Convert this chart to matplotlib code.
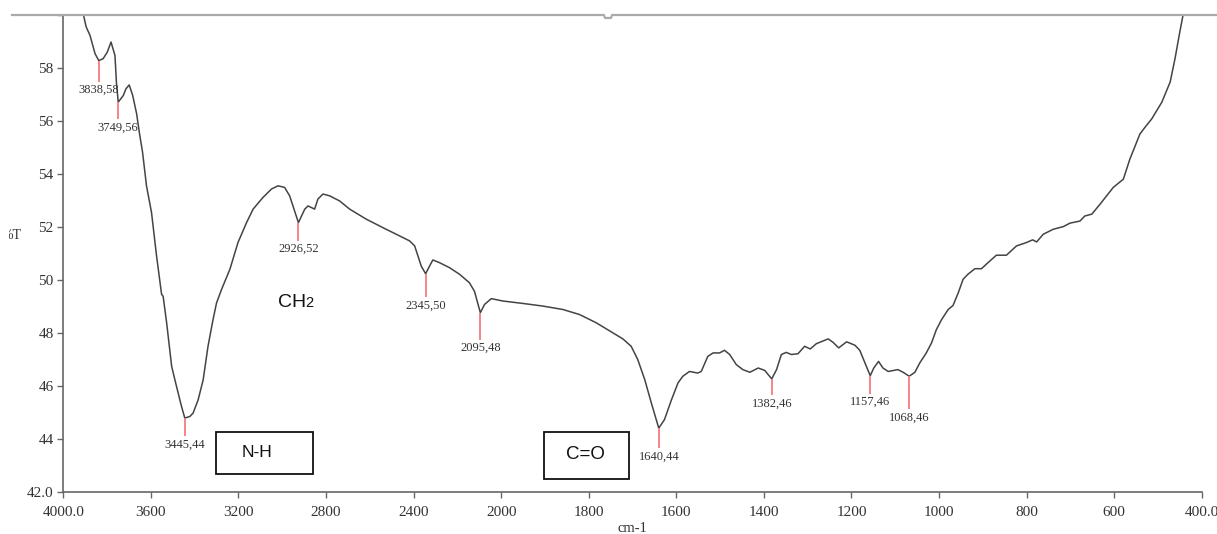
import numpy as np
import matplotlib
matplotlib.use("Agg")
import matplotlib.pyplot as plt
from matplotlib.patches import Rectangle
from matplotlib.lines import Line2D

# FTIR spectrum: wavenumber (cm-1) and transmittance (%T)
wavenumber = [
    3915, 3909, 3896, 3878, 3855, 3838, 3818, 3799, 3782, 3764, 3757, 3749,
    3726, 3714, 3699, 3683, 3665, 3653, 3638, 3620, 3597, 3574, 3562, 3551,
    3544, 3528, 3505, 3483, 3460, 3445, 3422, 3407, 3384, 3361, 3339, 3316,
    3300, 3277, 3239, 3202, 3163, 3133, 3088, 3049, 3019, 2989, 2966, 2951,
    2936, 2926, 2912, 2897, 2882, 2867, 2852, 2837, 2814, 2783, 2738, 2692,
    2616, 2540, 2464, 2418, 2395, 2380, 2365, 2345, 2327, 2312, 2282, 2236,
    2190, 2145, 2122, 2095, 2076, 2045, 1996, 1951, 1905, 1859, 1821, 1783,
    1745, 1722, 1703, 1688, 1672, 1657, 1640, 1627, 1611, 1596, 1585, 1570,
    1551, 1543, 1528, 1516, 1501, 1490, 1478, 1463, 1448, 1432, 1413, 1398,
    1382, 1371, 1360, 1349, 1337, 1322, 1307, 1294, 1280, 1253, 1242, 1229,
    1211, 1192, 1181, 1169, 1157, 1149, 1138, 1128, 1116, 1094, 1082, 1068,
    1055, 1044, 1029, 1017, 1006, 994, 979, 968, 956, 945, 934, 918,
    903, 888, 869, 846, 823, 800, 786, 777, 762, 739, 716, 701,
    678, 667, 651, 632, 602, 579, 564, 541, 529, 514, 491, 472,
    461, 450, 442, 438,
]
transmittance = [
    60.30, 60.05, 59.56, 59.23, 58.54, 58.28, 58.35, 58.60, 58.98, 58.47, 57.40, 56.71,
    56.96, 57.21, 57.36, 56.96, 56.27, 55.58, 54.82, 53.55, 52.54, 50.90, 50.14, 49.45,
    49.38, 48.38, 46.73, 45.98, 45.22, 44.78, 44.84, 44.97, 45.47, 46.23, 47.49, 48.50,
    49.13, 49.64, 50.40, 51.41, 52.16, 52.67, 53.11, 53.43, 53.55, 53.49, 53.17, 52.79,
    52.41, 52.16, 52.41, 52.67, 52.79, 52.73, 52.67, 53.05, 53.24, 53.17, 52.98, 52.67,
    52.29, 51.97, 51.66, 51.47, 51.28, 50.90, 50.52, 50.23, 50.52, 50.75, 50.65, 50.46,
    50.21, 49.89, 49.57, 48.76, 49.07, 49.29, 49.20, 49.11, 49.01, 48.88, 48.69, 48.38,
    48.00, 47.77, 47.49, 46.99, 46.23, 45.35, 44.40, 44.72, 45.47, 46.11, 46.36, 46.54,
    46.48, 46.54, 47.11, 47.24, 47.24, 47.34, 47.18, 46.80, 46.61, 46.51, 46.67, 46.58,
    46.26, 46.61, 47.18, 47.26, 47.18, 47.21, 47.49, 47.39, 47.59, 47.77, 47.64, 47.43,
    47.66, 47.53, 47.34, 46.86, 46.38, 46.67, 46.92, 46.67, 46.54, 46.61, 46.51, 46.36,
    46.51, 46.86, 47.24, 47.62, 48.12, 48.50, 48.88, 49.03, 49.51, 50.02, 50.21, 50.42,
    50.42, 50.65, 50.93, 50.93, 51.28, 51.41, 51.51, 51.43, 51.72, 51.91, 52.01, 52.14,
    52.22, 52.41, 52.48, 52.86, 53.49, 53.80, 54.56, 55.51, 55.77, 56.08, 56.71, 57.47,
    58.35, 59.36, 60.05, 60.30,
]

# Picked peaks (cm-1)
peak_wavenumbers = [3838, 3749, 3445, 2926, 2345, 2095, 1640, 1382, 1157, 1068]
stem_lengths_px = [21, 17, 18, 18, 23, 27, 20, 16, 18, 33]

x_ticks = [4000, 3600, 3200, 2800, 2400, 2000, 1800, 1600, 1400, 1200, 1000, 800, 600, 400]
x_tick_labels = ["4000.0", "3600", "3200", "2800", "2400", "2000", "1800", "1600",
                 "1400", "1200", "1000", "800", "600", "400.0"]
y_ticks = [42, 44, 46, 48, 50, 52, 54, 56, 58, 60]
y_tick_labels = ["42.0", "44", "46", "48", "50", "52", "54", "56", "58", ""]

W, H = 1217, 534
fig = plt.figure(figsize=(W / 100, H / 100), dpi=100)
ax = fig.add_axes([63.3 / W, 1 - 491.7 / H, (1201.7 - 63.3) / W, (491.7 - 15) / H])


# Wavenumber axis is compressed 2:1 above 2000 cm-1
def fwd(w):
    w = np.asarray(w, dtype=float)
    return np.where(w >= 2000, w, 2 * w - 2000)


def inv(u):
    u = np.asarray(u, dtype=float)
    return np.where(u >= 2000, u, (u + 2000) / 2)


ax.set_xscale("function", functions=(fwd, inv))
ax.set_xlim(4000, 400)
ax.set_ylim(42, 60)

curve_color = "#444444"
ax.plot(wavenumber, transmittance, color=curve_color, lw=1.1, solid_joinstyle="round")

serif = "Liberation Serif"
sans = "Liberation Sans"
text_color = "#333333"

ax.set_xticks(x_ticks)
ax.set_xticklabels(x_tick_labels, fontfamily=serif, fontsize=11, color=text_color)
ax.set_yticks(y_ticks)
ax.set_yticklabels(y_tick_labels, fontfamily=serif, fontsize=11, color=text_color)
ax.minorticks_off()
ax.tick_params(axis="x", direction="out", length=4, width=1, color="#666666", pad=6)
ax.tick_params(axis="y", direction="out", length=4, width=1, color="#666666", pad=3)

for side in ("top", "right"):
    ax.spines[side].set_visible(False)
for side in ("left", "bottom"):
    ax.spines[side].set_color("#666666")
    ax.spines[side].set_linewidth(1.2)

# Peak markers and labels
fig.canvas.draw()
px_per_unit = ax.get_window_extent().height / (60 - 42)
wn_rev = np.asarray(wavenumber)[::-1]
t_rev = np.asarray(transmittance)[::-1]
for wn, L in zip(peak_wavenumbers, stem_lengths_px):
    t = float(np.interp(wn, wn_rev, t_rev))
    t_end = t - L / px_per_unit
    ax.plot([wn, wn], [t, t_end], color="#f47c7c", lw=1.3, solid_capstyle="butt")
    ax.text(wn, t_end - 2.5 / px_per_unit, f"{wn},{int(t)}", ha="center", va="top",
            fontfamily=serif, fontsize=9, color=text_color)

# Functional group annotations
ax.add_patch(Rectangle((3303, 42.67), 2861 - 3303, 44.27 - 42.67, fill=False,
                       edgecolor="#111111", lw=1.3, clip_on=False))
ax.text(3115, 43.47, "N-H", ha="center", va="center", fontfamily=sans,
        fontsize=12.5, color="#111111")
ax.add_patch(Rectangle((1901, 42.48), 1708 - 1901, 44.25 - 42.48, fill=False,
                       edgecolor="#111111", lw=1.3, clip_on=False))
ax.text(1807, 43.40, "C=O", ha="center", va="center", fontfamily=sans,
        fontsize=13.5, color="#111111")
ax.text(2893, 48.96, "CH", ha="right", va="baseline", fontfamily=sans,
        fontsize=14, color="#111111")
ax.text(2893, 48.96, "2", ha="left", va="baseline", fontfamily=sans,
        fontsize=10.5, color="#111111")

# Axis titles
fig.text(21 / W, 1 - 235 / H, "%T", ha="right", va="center", fontfamily=serif,
         fontsize=10, color=text_color)
fig.text(632 / W, 1 - 522 / H, "cm-1", ha="center", va="top", fontfamily=serif,
         fontsize=10.5, color=text_color)

# Cropped edges: blank band on the left and window frame along the top
fig.patches.append(Rectangle((0, 0), 9 / W, 1, transform=fig.transFigure,
                             facecolor="white", edgecolor="none", zorder=10))
fig.patches.append(Rectangle((0, 1 - 15 / H), 1, 15 / H, transform=fig.transFigure,
                             facecolor="white", edgecolor="none", zorder=10))
frame_x = np.array([12, 604, 605, 611, 612, W]) / W
frame_y = 1 - np.array([15, 15, 18, 18, 15, 15]) / H
fig.lines.append(Line2D(frame_x, frame_y, transform=fig.transFigure, color="#aaaaaa",
                        lw=1.6, zorder=11))

fig.savefig("out.png", dpi=100)
